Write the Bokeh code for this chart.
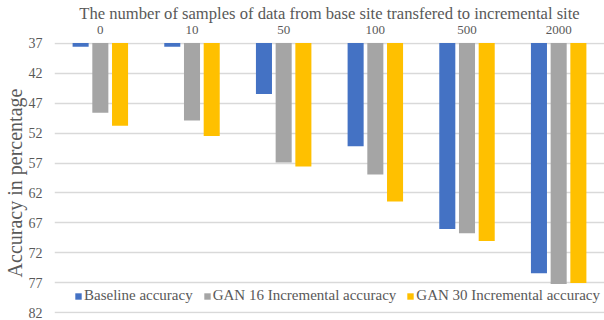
from bokeh.plotting import figure
from bokeh.models import Range1d, FixedTicker, Legend, LegendItem, ColumnDataSource
from bokeh.embed import file_html
from bokeh.resources import INLINE

categories = ["0", "10", "50", "100", "500", "2000"]
baseline = [37.6, 37.6, 45.5, 54.2, 68.0, 75.4]
gan16 = [48.6, 49.9, 56.9, 58.9, 68.7, 77.2]
gan30 = [50.8, 52.5, 57.6, 63.4, 70.0, 77.0]
y_ticks = [37, 42, 47, 52, 57, 62, 67, 72, 77, 82]
series_names = ["Baseline accuracy", "GAN 16 Incremental accuracy", "GAN 30 Incremental accuracy"]
colors = ["#4472C4", "#A5A5A5", "#FFC000"]

FONT = "Liberation Serif"
TXT = "#595959"

p = figure(width=604, height=320, output_backend="svg", toolbar_location=None,
           x_axis_location="above",
           x_range=Range1d(-0.5, 5.5), y_range=Range1d(82.1, 36.9),
           min_border_left=0, min_border_right=0, min_border_top=0, min_border_bottom=7)
p.outline_line_color = None

idx = list(range(len(categories)))
offsets = [-0.215, 0.0, 0.215]
renderers = []
for vals, off, col in zip([baseline, gan16, gan30], offsets, colors):
    src = ColumnDataSource(dict(x=[i + off for i in idx], v=vals, base=[37] * len(vals)))
    r = p.vbar(x="x", top="base", bottom="v", width=0.175, source=src,
               fill_color=col, line_color=None)
    renderers.append(r)

# x axis (top)
p.xaxis.ticker = FixedTicker(ticks=idx)
p.xaxis.major_label_overrides = {i: c for i, c in zip(idx, categories)}
p.xaxis.axis_label = "The number of samples of data from base site transfered to incremental site"
p.xaxis.axis_label_text_font = FONT
p.xaxis.axis_label_text_font_style = "normal"
p.xaxis.axis_label_text_font_size = "16.6px"
p.xaxis.axis_label_text_color = TXT
p.xaxis.axis_label_standoff = 0
p.xaxis.major_label_text_font = FONT
p.xaxis.major_label_text_font_style = "normal"
p.xaxis.major_label_text_font_size = "13px"
p.xaxis.major_label_text_color = TXT
p.xaxis.major_label_standoff = 3
p.xaxis.axis_line_color = None
p.xaxis.major_tick_line_color = None
p.xaxis.minor_tick_line_color = None
p.xgrid.grid_line_color = None

# y axis
p.yaxis.ticker = FixedTicker(ticks=y_ticks)
p.yaxis.axis_label = "Accuracy  in  percentage"
p.yaxis.axis_label_text_font = FONT
p.yaxis.axis_label_text_font_style = "normal"
p.yaxis.axis_label_text_font_size = "20px"
p.yaxis.axis_label_text_color = TXT
p.yaxis.axis_label_standoff = 0
p.yaxis.major_label_text_font = FONT
p.yaxis.major_label_text_font_style = "normal"
p.yaxis.major_label_text_font_size = "14px"
p.yaxis.major_label_text_color = TXT
p.yaxis.major_label_standoff = 6
p.yaxis.axis_line_color = None
p.yaxis.major_tick_line_color = None
p.yaxis.minor_tick_line_color = None
p.ygrid.grid_line_color = "#D9D9D9"
p.ygrid.grid_line_width = 1.5

legend = Legend(items=[LegendItem(label=n, renderers=[r]) for n, r in zip(series_names, renderers)],
                orientation="horizontal", location=(20, 9),
                glyph_width=8, glyph_height=8, label_standoff=2, spacing=10,
                padding=0, margin=0, border_line_color=None, background_fill_alpha=0,
                label_text_font=FONT, label_text_font_size="15px", label_text_color=TXT,
                label_height=16)
p.add_layout(legend)

open("out.html", "w").write(file_html(p, INLINE))
